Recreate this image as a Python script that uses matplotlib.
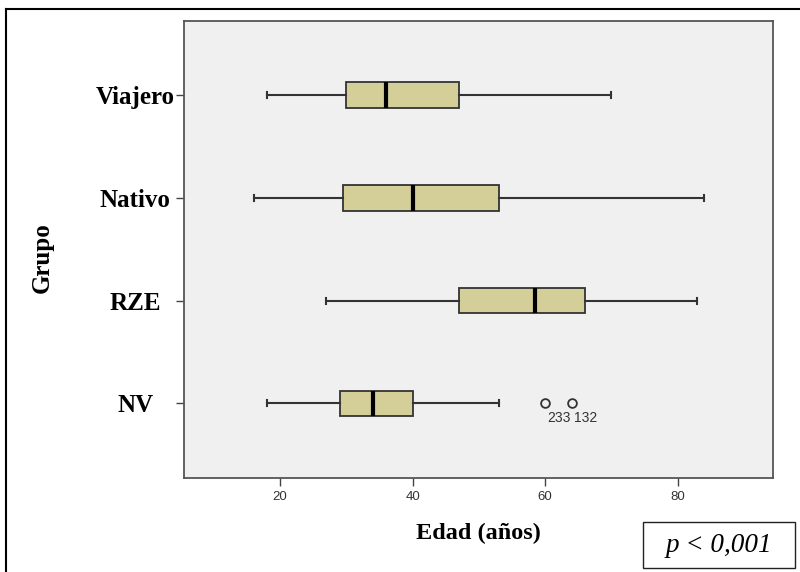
import matplotlib
matplotlib.use("Agg")
import matplotlib.pyplot as plt
from matplotlib.patches import Rectangle
from matplotlib.lines import Line2D

# Data
groups = ["NV", "RZE", "Nativo", "Viajero"]
whislo = [18, 27, 16, 18]
q1 = [29, 47, 29.5, 30]
med = [34, 58.5, 40, 36]
q3 = [40, 66, 53, 47]
whishi = [53, 83, 84, 70]
outliers_nv = [60, 64]
outlier_ids = ["233", "132"]
xticks = [20, 40, 60, 80]

fig = plt.figure(figsize=(8, 5.72), dpi=100)
fig.patch.set_facecolor("white")
ax = fig.add_axes([184 / 800, 1 - 478 / 572, (773 - 184) / 800, (478 - 21) / 572])
ax.set_facecolor("#f0f0f0")

stats = []
for i, g in enumerate(groups):
    stats.append(dict(label=g, whislo=whislo[i], q1=q1[i], med=med[i], q3=q3[i],
                      whishi=whishi[i], fliers=outliers_nv if g == "NV" else []))

ax.bxp(stats, positions=[1, 2, 3, 4], vert=False, widths=0.25, patch_artist=True,
       showfliers=True,
       boxprops=dict(facecolor="#d4cf98", edgecolor="#333333", linewidth=1.3),
       medianprops=dict(color="black", linewidth=3),
       whiskerprops=dict(color="#333333", linewidth=1.5),
       capprops=dict(color="#333333", linewidth=1.5),
       capwidths=0.06,
       flierprops=dict(marker="o", markerfacecolor="none", markeredgecolor="#333333",
                       markersize=6.3, markeredgewidth=1.3))

for xv, lab in zip(outliers_nv, outlier_ids):
    ax.text(xv + 0.3, 1 - 0.07, lab, fontsize=10, family="Liberation Sans",
            color="#333333", ha="left", va="top")

ax.set_xlim(5.5, 94.4)
ax.set_ylim(0.273, 4.723)
ax.set_xticks(xticks)
ax.set_xticklabels([str(t) for t in xticks], fontsize=9.5, color="#333333",
                   family="Liberation Sans")
ax.set_yticks([1, 2, 3, 4])
ax.set_yticklabels(groups, fontsize=18, fontweight="bold", family="Liberation Serif",
                   ha="center")
ax.tick_params(axis="y", length=6, width=1, color="#444444", pad=29)
ax.tick_params(axis="x", length=6, width=1, color="#444444", pad=3)
for s in ax.spines.values():
    s.set_color("#555555")
    s.set_linewidth(1.3)

ax.set_xlabel("Edad (años)", fontsize=17.5, fontweight="bold", family="Liberation Serif",
              labelpad=15)
fig.text(42 / 800, 1 - 258 / 572, "Grupo", fontsize=18, fontweight="bold",
         family="Liberation Serif", rotation=90, ha="center", va="center")

# outer frame lines
fig.add_artist(Line2D([6 / 800, 6 / 800], [0, 1 - 9 / 572], color="black", linewidth=1.5,
                      transform=fig.transFigure))
fig.add_artist(Line2D([6 / 800, 1], [1 - 9 / 572, 1 - 9 / 572], color="black", linewidth=1.5,
                      transform=fig.transFigure))

# p-value box
fig.add_artist(Rectangle((643 / 800, 1 - 568 / 572), (795 - 643) / 800, (568 - 522) / 572,
                         transform=fig.transFigure, facecolor="white", edgecolor="#222222",
                         linewidth=1))
fig.text(719 / 800, 1 - 546 / 572, "p < 0,001", fontsize=19.5, style="italic",
         family="Liberation Serif", ha="center", va="center")

fig.savefig("out.png", dpi=100)
